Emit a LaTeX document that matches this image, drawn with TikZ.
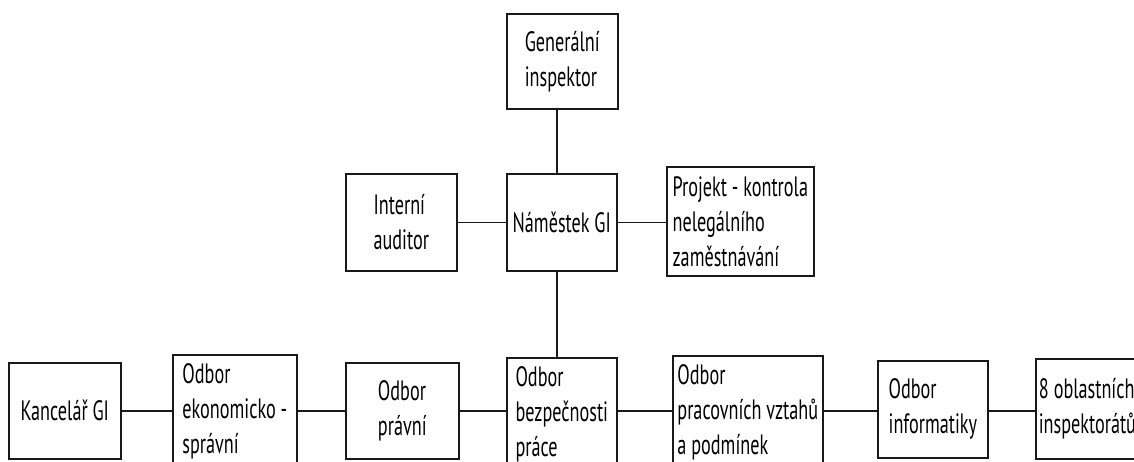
\documentclass[tikz,border=0pt]{standalone}
\usepackage{fontspec}
\setmainfont{PT Sans}[FakeStretch=0.65]
\begin{document}
\begin{tikzpicture}[x=1pt,y=-1pt,
  box/.style={draw=black!90, line width=1.6pt, anchor=north west, align=left,
    inner sep=0pt, font=\fontsize{28}{35}\selectfont, text=black},
  conn/.style={draw=black!90, line width=1.6pt}]
\useasboundingbox (0,0) rectangle (1134,461);
\clip (0,0) rectangle (1134,461);
\coordinate (spine) at (557,0);
\coordinate (row) at (0,411);
% top
\node[box, minimum width=111pt, minimum height=95pt] (gen) at (506,13) {Generální\\inspektor};
\node[box, minimum width=111pt, minimum height=97pt] (aud) at (345,173) {Interní\\auditor};
\node[box, minimum width=110pt, minimum height=97pt] (nam) at (506,173) {Náměstek GI};
\node[box, minimum width=147pt, minimum height=109pt] (prj) at (666,166) {Projekt - kontrola\\nelegálního\\zaměstnávání};
% bottom row
\node[box, minimum width=112pt, minimum height=96pt] (kan) at (8,362) {Kancelář GI};
\node[box, minimum width=124pt, minimum height=114pt] (eko) at (172,354) {Odbor\\ekonomicko -\\správní};
\node[box, minimum width=113pt, minimum height=96pt] (pra) at (345,362) {Odbor\\právní};
\node[box, minimum width=110pt, minimum height=114pt] (bez) at (506,357) {Odbor\\bezpečnosti\\práce};
\node[box, minimum width=150pt, minimum height=114pt] (prc) at (672,355) {Odbor\\pracovních vztahů\\a podmínek};
\node[box, minimum width=110pt, minimum height=97pt] (inf) at (877,360) {Odbor\\informatiky};
\node[box, minimum width=140pt, minimum height=100pt, text width=134pt, inner xsep=3pt] (obl) at (1035,358) {8\hspace{0.18em}oblastních\\inspektorátů};
% connectors
\draw[conn] (gen.south -| spine) -- (nam.north -| spine);
\draw[conn] (nam.south -| spine) -- (bez.north -| spine);
\draw[conn] (aud.east) -- (nam.west |- aud.east);
\draw[conn] (nam.east) -- (prj.west |- nam.east);
\draw[conn] (kan.east |- row) -- (eko.west |- row);
\draw[conn] (eko.east |- row) -- (pra.west |- row);
\draw[conn] (pra.east |- row) -- (bez.west |- row);
\draw[conn] (bez.east |- row) -- (prc.west |- row);
\draw[conn] (prc.east |- row) -- (inf.west |- row);
\draw[conn] (inf.east |- row) -- (obl.west |- row);
\end{tikzpicture}
\end{document}
